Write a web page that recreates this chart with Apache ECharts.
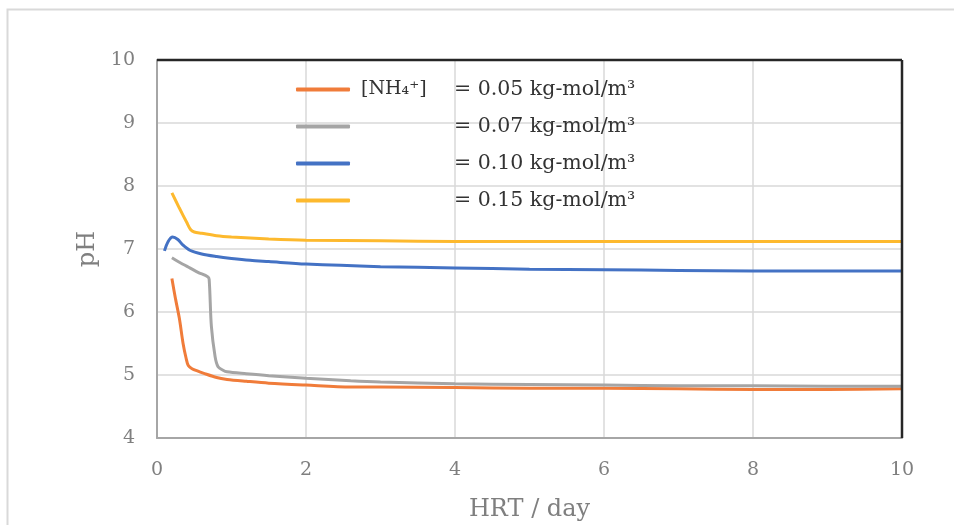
<!DOCTYPE html>
<html>
<head>
<meta charset="utf-8">
<script src="https://cdn.jsdelivr.net/npm/echarts@6/dist/echarts.min.js"></script>
<style>html,body{margin:0;padding:0;background:#fff;}#c{width:954px;height:525px;}</style>
</head>
<body>
<div id="c"></div>
<script>
var seriesNames = ['0.05', '0.07', '0.10', '0.15'];
var colors = ['#F07C3A', '#A5A5A5', '#4472C4', '#FDB92E'];
var xTicks = [0, 2, 4, 6, 8, 10];
var yTicks = [4, 5, 6, 7, 8, 9, 10];

var hrt005 = [0.2, 0.25, 0.3, 0.35, 0.39, 0.42, 0.47, 0.55, 0.62, 0.8, 0.94, 1.2, 1.5, 2, 2.6, 3, 4, 5, 6, 7, 8, 9, 10];
var ph005  = [6.53, 6.2, 5.9, 5.5, 5.27, 5.15, 5.1, 5.06, 5.03, 4.96, 4.93, 4.9, 4.87, 4.84, 4.81, 4.81, 4.8, 4.79, 4.79, 4.78, 4.77, 4.77, 4.78];

var hrt007 = [0.2, 0.3, 0.44, 0.55, 0.68, 0.7, 0.73, 0.78, 0.82, 0.88, 0.94, 1.2, 1.5, 2, 2.6, 3, 4, 5, 6, 7, 8, 9, 10];
var ph007  = [6.86, 6.79, 6.7, 6.63, 6.56, 6.52, 5.77, 5.29, 5.13, 5.08, 5.05, 5.02, 4.99, 4.95, 4.91, 4.89, 4.86, 4.85, 4.84, 4.83, 4.83, 4.82, 4.82];

var hrt010 = [0.1, 0.15, 0.21, 0.28, 0.35, 0.44, 0.6, 0.8, 1.0, 1.25, 1.5, 2, 3, 4, 5, 6, 7, 8, 9, 10];
var ph010  = [6.97, 7.12, 7.19, 7.15, 7.06, 6.98, 6.92, 6.88, 6.85, 6.82, 6.8, 6.76, 6.72, 6.7, 6.68, 6.67, 6.66, 6.65, 6.65, 6.65];

var hrt015 = [0.2, 0.3, 0.4, 0.45, 0.5, 0.6, 0.8, 1.0, 1.5, 2, 3, 4, 5, 6, 7, 8, 9, 10];
var ph015  = [7.89, 7.65, 7.42, 7.31, 7.27, 7.25, 7.21, 7.19, 7.16, 7.14, 7.13, 7.12, 7.12, 7.12, 7.12, 7.12, 7.12, 7.12];

var xs = [hrt005, hrt007, hrt010, hrt015];
var ys = [ph005, ph007, ph010, ph015];

function pairs(x, y) { return x.map(function (v, i) { return [v, y[i]]; }); }

var serif = 'DejaVu Serif';
var chart = echarts.init(document.getElementById('c'));
var series = seriesNames.map(function (n, i) {
  return {
    name: n,
    type: 'line',
    data: pairs(xs[i], ys[i]),
    smooth: 0.3,
    symbol: 'none',
    lineStyle: { color: colors[i], width: 3 },
    itemStyle: { color: colors[i] },
    z: 3 + i
  };
});

chart.setOption({
  animation: false,
  backgroundColor: '#fff',
  graphic: [{
    type: 'rect', shape: { x: 7.5, y: 9.5, width: 970, height: 540 },
    style: { fill: 'none', stroke: '#d9d9d9', lineWidth: 2 }, silent: true, z: -1
  }, {
    type: 'line', shape: { x1: 157, y1: 60, x2: 902, y2: 60 },
    style: { stroke: '#262626', lineWidth: 2.5 }, z: 10
  }, {
    type: 'line', shape: { x1: 902, y1: 60, x2: 902, y2: 438 },
    style: { stroke: '#262626', lineWidth: 2.5 }, z: 10
  }],
  grid: { left: 157, right: 52, top: 60, bottom: 87, outerBoundsMode: 'none', containLabel: false },
  legend: {
    left: 291, top: 74, orient: 'vertical',
    itemWidth: 54, itemHeight: 4, itemGap: 16,
    icon: 'roundRect',
    data: seriesNames,
    formatter: function (n) {
      var first = n === '0.05' ? '[NH\u2084\u207A]' : '\u00a0';
      return '{a|' + first + '}{b|= ' + n + ' kg-mol/m\u00B3}';
    },
    textStyle: {
      rich: {
        a: { fontFamily: serif, fontSize: 19, color: '#333', width: 93, padding: [0, 0, 0, 6], lineHeight: 25 },
        b: { fontFamily: serif, fontSize: 20.5, color: '#333', lineHeight: 25 }
      }
    }
  },
  xAxis: {
    type: 'value', min: 0, max: 10, interval: 2,
    name: 'HRT / day', nameLocation: 'middle', nameGap: 60,
    nameTextStyle: { fontFamily: serif, fontSize: 24, color: '#7f7f7f' },
    axisLine: { show: true, lineStyle: { color: '#a6a6a6', width: 2 } },
    axisTick: { show: false },
    axisLabel: { fontFamily: serif, fontSize: 19, color: '#7f7f7f', margin: 23 },
    splitLine: { show: true, lineStyle: { color: '#d9d9d9', width: 1.5 } }
  },
  yAxis: {
    type: 'value', min: 4, max: 10, interval: 1,
    name: 'pH', nameLocation: 'middle', nameGap: 57, nameRotate: 90,
    nameTextStyle: { fontFamily: serif, fontSize: 24, color: '#7f7f7f' },
    axisLine: { show: true, lineStyle: { color: '#a6a6a6', width: 2 } },
    axisTick: { show: false },
    axisLabel: { fontFamily: serif, fontSize: 19, color: '#7f7f7f', margin: 22 },
    splitLine: { show: true, lineStyle: { color: '#d9d9d9', width: 1.5 } }
  },
  series: series
});
</script>
</body>
</html>
